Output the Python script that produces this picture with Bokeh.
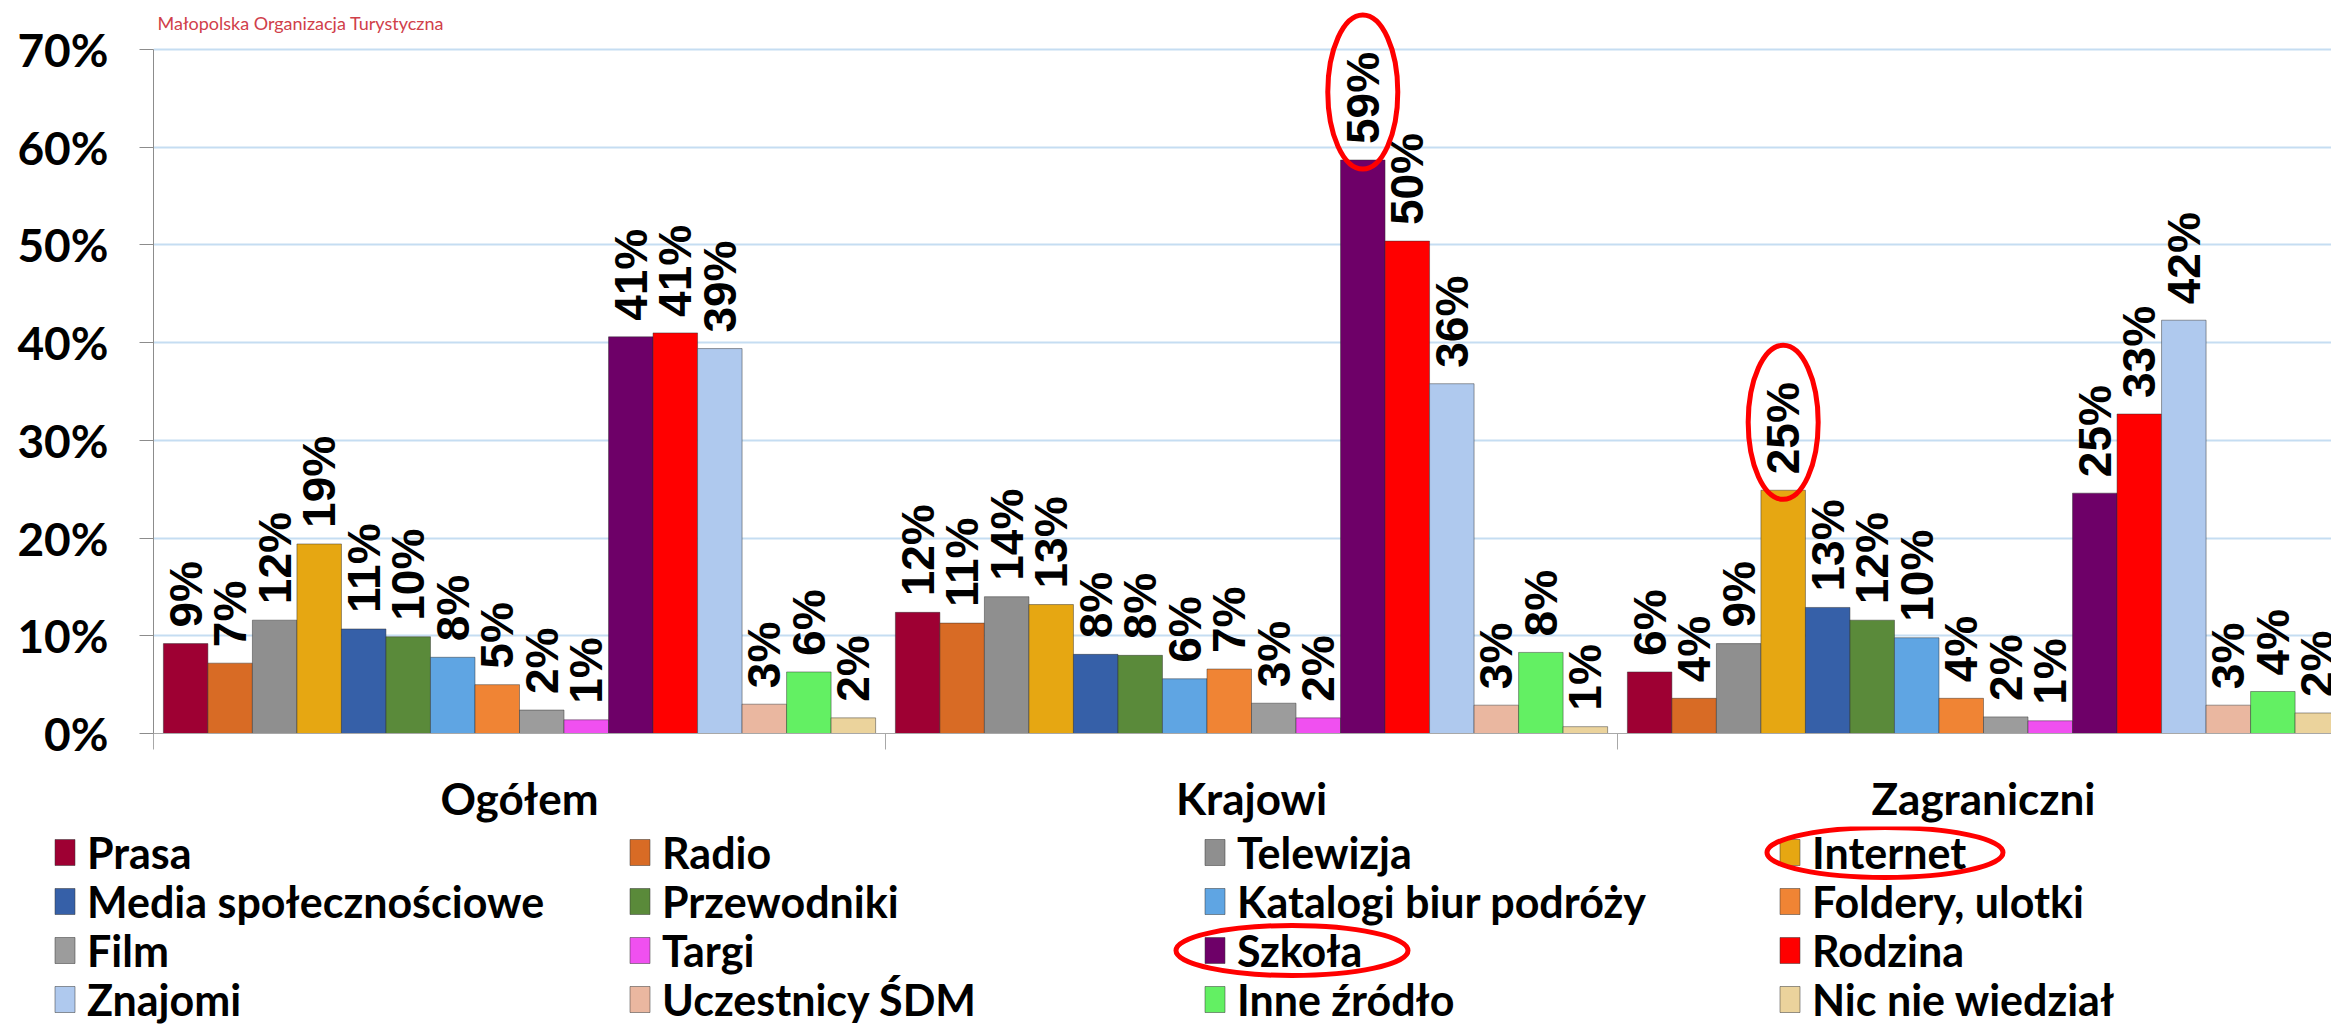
import numpy as np
from bokeh.plotting import figure
from bokeh.models import ColumnDataSource, Range1d, FixedTicker, NumeralTickFormatter, Label
from bokeh.layouts import column
from bokeh.core.properties import value
from bokeh.embed import file_html
from bokeh.resources import INLINE

# ---------------- data ----------------
groups = ["Ogółem", "Krajowi", "Zagraniczni"]
series = ["Prasa", "Radio", "Telewizja", "Internet", "Media społecznościowe",
          "Przewodniki", "Katalogi biur podróży", "Foldery, ulotki", "Film",
          "Targi", "Szkoła", "Rodzina", "Znajomi", "Uczestnicy ŚDM",
          "Inne źródło", "Nic nie wiedział"]
ogolem = [0.092, 0.072, 0.116, 0.194, 0.107, 0.099, 0.078, 0.050,
          0.024, 0.014, 0.406, 0.410, 0.394, 0.030, 0.063, 0.016]
krajowi = [0.124, 0.113, 0.140, 0.132, 0.081, 0.080, 0.056, 0.066,
           0.031, 0.016, 0.587, 0.504, 0.358, 0.029, 0.083, 0.007]
zagraniczni = [0.063, 0.036, 0.092, 0.249, 0.129, 0.116, 0.098, 0.036,
               0.017, 0.013, 0.246, 0.327, 0.423, 0.029, 0.043, 0.021]
y_ticks = [0.0, 0.1, 0.2, 0.3, 0.4, 0.5, 0.6, 0.7]
header = "Małopolska Organizacja Turystyczna"
highlight_bars = [("Krajowi", "Szkoła"), ("Zagraniczni", "Internet")]
highlight_legend = ["Internet", "Szkoła"]

# ---------------- style ----------------
colors = ["#9E0033", "#D86B25", "#8F8F8F", "#E6A712", "#3660A8", "#5A8A3A",
          "#5FA5E3", "#F08434", "#9C9C9C", "#F050F0", "#6E0068", "#FF0000",
          "#AFC9EE", "#EAB7A0", "#63F063", "#EBD39C"]
FONT = "Lato"
slot = 0.973 / len(series)
W = 2331
LEFT = 153
GROUP_PX = 732
TOP = 10
FRAME_H = 724
BOTTOM = 92
Y_MAX = 0.74

values = [ogolem, krajowi, zagraniczni]
xs, tops, cols, labels = [], [], [], []
for gi, g in enumerate(groups):
    for si, s in enumerate(series):
        xs.append(gi + 0.5 + (si - (len(series) - 1) / 2) * slot)
        tops.append(values[gi][si])
        cols.append(colors[si])
        labels.append(f"{values[gi][si] * 100:.0f}%")
src = ColumnDataSource(dict(x=xs, top=tops, color=cols, label=labels))

p = figure(width=W, height=TOP + FRAME_H + BOTTOM,
           x_range=Range1d(0, (W - LEFT) / GROUP_PX), y_range=Range1d(0, Y_MAX),
           output_backend="svg", toolbar_location=None,
           min_border_left=LEFT, min_border_right=0, min_border_top=TOP,
           min_border_bottom=BOTTOM)
p.outline_line_color = None
p.background_fill_color = "white"

p.vbar(x="x", top="top", width=slot, bottom=0, source=src, fill_color="color",
       line_color="#2a2a2a", line_alpha=0.45, line_width=1)
p.text(x="x", y="top", text="label", source=src, angle=np.pi / 2,
       text_align="left", text_baseline="middle", y_offset=-16,
       text_font=value("Liberation Sans"), text_font_style="bold",
       text_font_size="46px", text_color="black")

# highlight ellipses around two bar labels
hx, hy = [], []
px_per_unit = FRAME_H / Y_MAX
for g, s in highlight_bars:
    gi, si = groups.index(g), series.index(s)
    hx.append(gi + 0.5 + (si - (len(series) - 1) / 2) * slot)
    hy.append(values[gi][si] + 68 / px_per_unit)
p.ellipse(x=hx, y=hy, width=70, height=154, width_units="screen", height_units="screen",
          fill_color=None, line_color="#FF0000", line_width=5)

# axes
p.yaxis.ticker = FixedTicker(ticks=y_ticks)
p.yaxis.formatter = NumeralTickFormatter(format="0%")
p.yaxis.bounds = (0, 0.7)
p.yaxis.major_label_text_font = FONT
p.yaxis.major_label_text_font_style = "bold"
p.yaxis.major_label_text_font_size = "46px"
p.yaxis.major_label_text_color = "black"
p.yaxis.axis_line_color = "#8C8C8C"
p.yaxis.major_tick_line_color = "#8C8C8C"
p.yaxis.major_tick_out = 14
p.yaxis.major_tick_in = 0
p.yaxis.minor_tick_line_color = None
p.yaxis.major_label_standoff = 31

centers = [i + 0.5 for i in range(len(groups))]
p.xaxis.ticker = FixedTicker(ticks=centers, minor_ticks=list(range(len(groups) + 1)))
p.xaxis.major_label_overrides = {c: g for c, g in zip(centers, groups)}
p.xaxis.major_label_text_font = FONT
p.xaxis.major_label_text_font_style = "bold"
p.xaxis.major_label_text_font_size = "44px"
p.xaxis.major_label_text_color = "black"
p.xaxis.axis_line_color = "#A8A8A8"
p.xaxis.major_tick_line_color = None
p.xaxis.major_tick_out = 0
p.xaxis.major_tick_in = 0
p.xaxis.minor_tick_line_color = "#A8A8A8"
p.xaxis.minor_tick_out = 16
p.xaxis.minor_tick_in = 0
p.xaxis.major_label_standoff = 22

p.xgrid.visible = False
p.ygrid.ticker = FixedTicker(ticks=y_ticks)
p.ygrid.bounds = (0, 0.7)
p.ygrid.grid_line_color = "#C5DDF2"
p.ygrid.grid_line_width = 2

p.add_layout(Label(x=4, y=FRAME_H - 2, x_units="screen", y_units="screen", text=header,
                   text_font=FONT, text_font_size="18px", text_color="#D0404A",
                   text_baseline="top"))

# ---------------- legend (separate figure) ----------------
ncol = 4
col_w = 575
row_h = 49
LG_H = 1024 - (TOP + FRAME_H + BOTTOM)
first_row = 26
lsrc = ColumnDataSource(dict(col=[i % ncol for i in range(len(series))],
                             row=[i // ncol for i in range(len(series))],
                             name=series, color=colors))
lg = figure(width=W, height=LG_H,
            x_range=Range1d(-64.5 / col_w, -64.5 / col_w + W / col_w),
            y_range=Range1d(-first_row / row_h + LG_H / row_h, -first_row / row_h),
            output_backend="svg", toolbar_location=None,
            x_axis_location=None, y_axis_location=None, min_border=0)
lg.outline_line_color = None
lg.xgrid.visible = False
lg.ygrid.visible = False
lg.rect(x="col", y="row", width=20, height=26, width_units="screen", height_units="screen",
        fill_color="color", line_color="#333333", line_alpha=0.5, source=lsrc)
lg.text(x="col", y="row", text="name", x_offset=22, text_baseline="middle",
        text_align="left", text_font=value(FONT), text_font_style="bold",
        text_font_size="43px", text_color="black", source=lsrc)
ell_off = {"Internet": 95, "Szkoła": 77}
ell_w = {"Internet": 236, "Szkoła": 232}
lx, ly, lw = [], [], []
for n in highlight_legend:
    i = series.index(n)
    lx.append(i % ncol + ell_off[n] / col_w)
    ly.append(i // ncol)
    lw.append(ell_w[n])
lg.ellipse(x=lx, y=ly, width=lw, height=50, width_units="screen", height_units="screen",
           fill_color=None, line_color="#FF0000", line_width=5)

for fig in (p, lg):
    if "frame_align" in fig.properties():
        fig.frame_align = False

layout = column(p, lg, spacing=0)
open("out.html", "w").write(file_html(layout, INLINE))
